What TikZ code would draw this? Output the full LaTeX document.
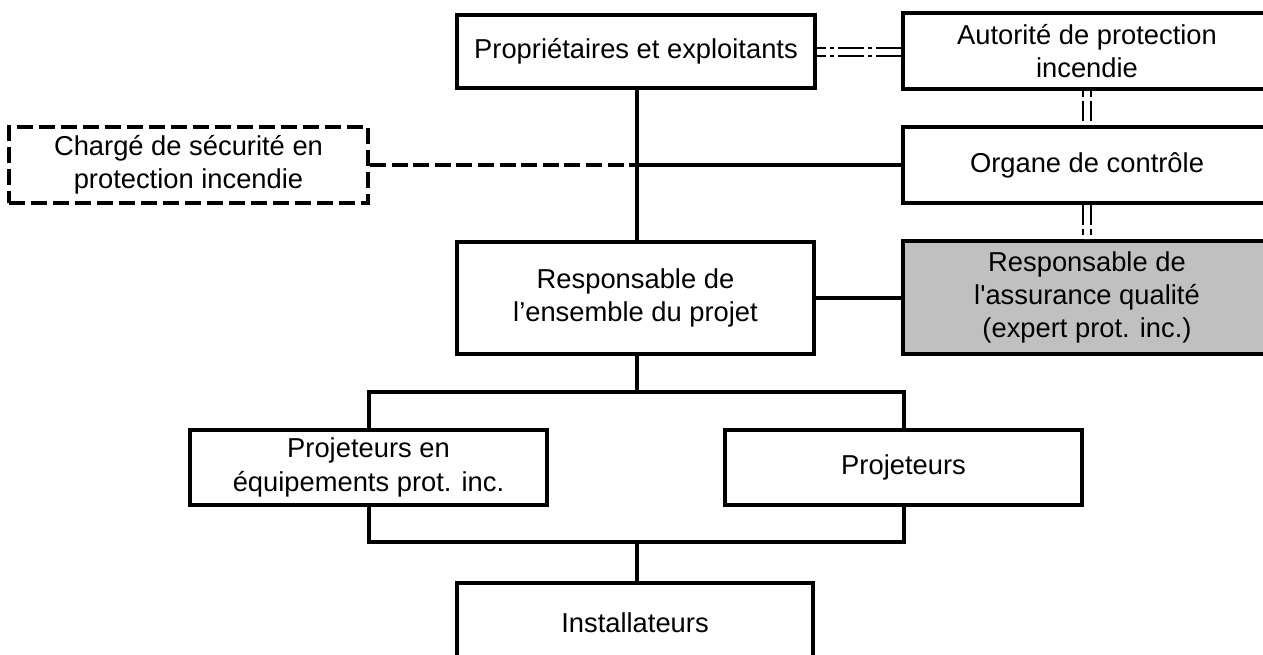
\documentclass[tikz,border=0pt]{standalone}
\usepackage{fontspec}
\setmainfont{Liberation Sans}
\newfontfamily\straightq{Liberation Sans}[Ligatures=TeXOff]
\definecolor{aqgray}{RGB}{192,192,192}
\newcommand\pxu{0.75pt}
\tikzset{
  box/.style={draw=black, line width=3pt, fill=white, inner sep=0pt, align=center,
    font=\fontsize{20.5}{25}\selectfont, text=black},
  link/.style={draw=black, line width=3pt},
  dlink/.style={draw=black, line width=3pt, dash pattern=on 12pt off 4.2pt},
  dbl/.style={draw=black, line width=1.8pt, double=white, double distance=4.4pt}
}
\begin{document}
\begin{tikzpicture}[x=0.75pt, y=-0.75pt]
\useasboundingbox (0,0) rectangle (1263,655);
\clip (0,0) rectangle (1263,655);
\fill[white] (0,0) rectangle (1263,655);

% nodes
\node[box, minimum width=358*\pxu, minimum height=73*\pxu] (prop) at (636,51.5) {Propriétaires et exploitants};
\node[box, minimum width=368*\pxu, minimum height=76*\pxu] (aut) at (1087,51) {Autorité de protection\\incendie};
\node[box, minimum width=368*\pxu, minimum height=76*\pxu] (org) at (1087,165) {Organe de contrôle};
\node[box, dash pattern=on 12pt off 4.5pt, minimum width=359*\pxu, minimum height=76*\pxu] (charge) at (188.5,165) {Chargé de sécurité en\\protection incendie};
\node[box, minimum width=357*\pxu, minimum height=112*\pxu] (resp) at (635.5,298) {Responsable de\\l’ensemble du projet};
\node[box, fill=aqgray, minimum width=368*\pxu, minimum height=113*\pxu] (aq) at (1087,297.5) {Responsable de\\{\straightq l'}assurance qualité\\(expert prot. inc.)};
\node[box, minimum width=357*\pxu, minimum height=75*\pxu] (proj1) at (368.5,467.5) {Projeteurs en\\équipements prot. inc.};
\node[box, minimum width=357*\pxu, minimum height=75*\pxu] (proj2) at (903.5,467.5) {Projeteurs};
\node[box, minimum width=356*\pxu, minimum height=80*\pxu] (inst) at (635,623) {Installateurs};

% junction coordinates
\coordinate (jc) at (637,165);
\coordinate (topbar) at (637,392);
\coordinate (botbar) at (637,542);

% connectors
\draw[link] (prop.south -| jc) -- (resp.north -| jc);
\draw[dlink] (charge.east) -- (jc);
\draw[link] (jc) -- (org.west);
\draw[link] (resp.east) -- (resp.east -| aq.west);
\draw[link] (resp.south -| topbar) -- (topbar);
\draw[link] (proj1.north) -- (proj1.north |- topbar) -- (proj2.north |- topbar) -- (proj2.north);
\draw[link] (proj1.south) -- (proj1.south |- botbar) -- (proj2.south |- botbar) -- (proj2.south);
\draw[link] (botbar) -- (inst.north -| botbar);

% double dash-dot links
\draw[dbl, dash pattern=on 19.5pt off 3pt on 3pt off 3pt, dash phase=12.75pt] (prop.east |- 0,52) -- (aut.west |- 0,52);
\draw[dbl, dash pattern=on 4.5pt off 3pt on 15pt off 4.5pt] (aut.south) -- (org.north);
\draw[dbl, dash pattern=on 15pt off 3pt on 4.5pt off 3pt] (org.south) -- (aq.north);
\end{tikzpicture}
\end{document}
